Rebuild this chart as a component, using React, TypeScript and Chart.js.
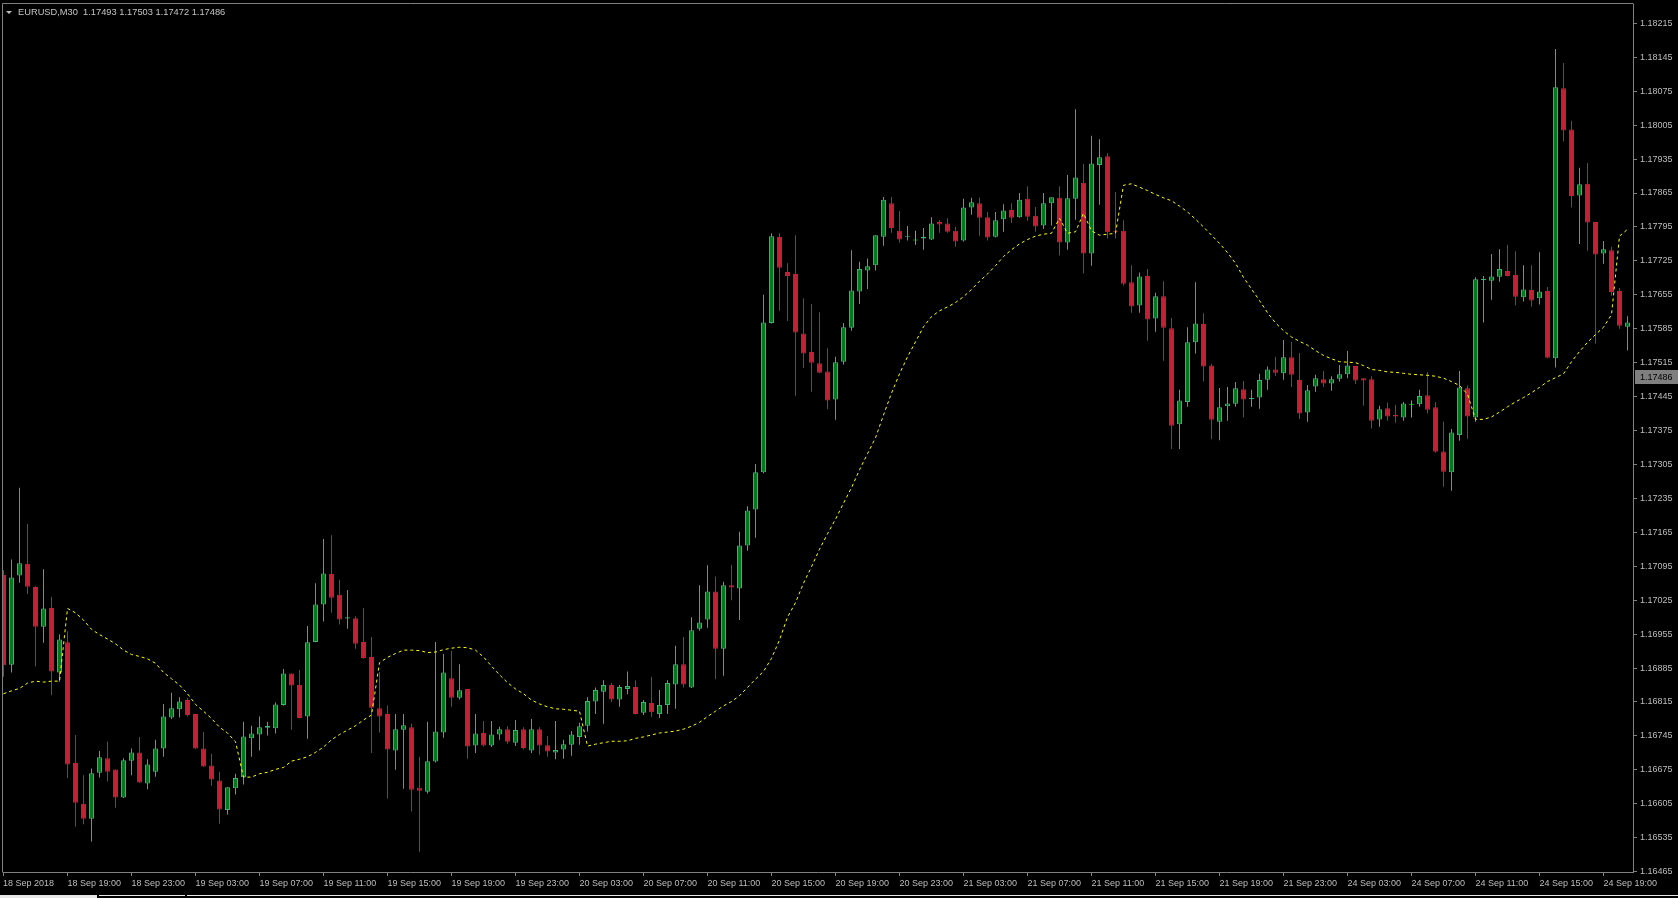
import React, { useEffect, useRef } from 'react';
import { Chart, registerables } from 'chart.js';

Chart.register(...registerables);

// ---- data (EURUSD M30, candle index 0 = 18 Sep 15:00) ----
const opens = [
  1.17077, 1.16892, 1.17076, 1.17100, 1.17052, 1.16970, 1.17009, 1.16876, 1.16938, 1.16689,
  1.16605, 1.16574, 1.16669, 1.16699, 1.16676, 1.16618, 1.16694, 1.16711, 1.16647, 1.16671,
  1.16719, 1.16783, 1.16800, 1.16819, 1.16790, 1.16719, 1.16684, 1.16653, 1.16592, 1.16637,
  1.16660, 1.16740, 1.16748, 1.16762, 1.16761, 1.16809, 1.16874, 1.16850, 1.16785, 1.16939,
  1.17016, 1.17079, 1.17036, 1.16987, 1.16988, 1.16939, 1.16908, 1.16802, 1.16790, 1.16715,
  1.16758, 1.16763, 1.16638, 1.16630, 1.16692, 1.16752, 1.16864, 1.16824, 1.16842, 1.16725,
  1.16751, 1.16725, 1.16748, 1.16759, 1.16731, 1.16759, 1.16715, 1.16759, 1.16726, 1.16711,
  1.16717, 1.16727, 1.16743, 1.16766, 1.16816, 1.16836, 1.16850, 1.16820, 1.16842, 1.16846,
  1.16793, 1.16813, 1.16790, 1.16809, 1.16851, 1.16893, 1.16845, 1.16966, 1.16985, 1.17043,
  1.16925, 1.17056, 1.17049, 1.17138, 1.17212, 1.17289, 1.17597, 1.17774, 1.17702, 1.17698,
  1.17575, 1.17537, 1.17514, 1.17497, 1.17439, 1.17517, 1.17587, 1.17662, 1.17705, 1.17716,
  1.17775, 1.17844, 1.17787, 1.17775, 1.17768, 1.17771, 1.17769, 1.17805, 1.17802, 1.17787,
  1.17767, 1.17835, 1.17844, 1.17815, 1.17775, 1.17811, 1.17830, 1.17815, 1.17853, 1.17818,
  1.17798, 1.17844, 1.17855, 1.17763, 1.17853, 1.17886, 1.17740, 1.17923, 1.17941, 1.17786,
  1.17787, 1.17681, 1.17633, 1.17694, 1.17606, 1.17652, 1.17586, 1.17388, 1.17434, 1.17557,
  1.17595, 1.17509, 1.17393, 1.17425, 1.17430, 1.17460, 1.17440, 1.17443, 1.17480, 1.17501,
  1.17493, 1.17526, 1.17479, 1.17412, 1.17466, 1.17481, 1.17472, 1.17482, 1.17491, 1.17508,
  1.17483, 1.17481, 1.17398, 1.17421, 1.17407, 1.17402, 1.17429, 1.17429, 1.17448, 1.17423,
  1.17332, 1.17289, 1.17366, 1.17462, 1.17402, 1.17685, 1.17684, 1.17692, 1.17704, 1.17696,
  1.17650, 1.17665, 1.17648, 1.17663, 1.17524, 1.18081, 1.17996, 1.17860, 1.17884, 1.17805,
  1.17740, 1.17747, 1.17663, 1.17589,
];
const highs = [
  1.17087, 1.17109, 1.17257, 1.17182, 1.17054, 1.17089, 1.17032, 1.16955, 1.16961, 1.16747,
  1.16664, 1.16678, 1.16714, 1.16733, 1.16676, 1.16699, 1.16719, 1.16743, 1.16697, 1.16737,
  1.16811, 1.16834, 1.16825, 1.16823, 1.16790, 1.16753, 1.16708, 1.16671, 1.16639, 1.16667,
  1.16774, 1.16766, 1.16785, 1.16774, 1.16814, 1.16883, 1.16874, 1.16881, 1.16972, 1.17060,
  1.17151, 1.17159, 1.17067, 1.17046, 1.16992, 1.17009, 1.16949, 1.16877, 1.16808, 1.16790,
  1.16790, 1.16770, 1.16702, 1.16774, 1.16939, 1.16914, 1.16920, 1.16893, 1.16842, 1.16790,
  1.16776, 1.16776, 1.16764, 1.16765, 1.16778, 1.16763, 1.16780, 1.16763, 1.16745, 1.16776,
  1.16737, 1.16755, 1.16772, 1.16825, 1.16845, 1.16860, 1.16854, 1.16850, 1.16878, 1.16860,
  1.16819, 1.16867, 1.16840, 1.16860, 1.16931, 1.16949, 1.16990, 1.17056, 1.17097, 1.17074,
  1.17063, 1.17098, 1.17166, 1.17219, 1.17306, 1.17655, 1.17782, 1.17782, 1.17720, 1.17778,
  1.17648, 1.17636, 1.17619, 1.17545, 1.17527, 1.17597, 1.17747, 1.17723, 1.17730, 1.17778,
  1.17857, 1.17857, 1.17828, 1.17797, 1.17787, 1.17793, 1.17815, 1.17809, 1.17813, 1.17795,
  1.17853, 1.17855, 1.17855, 1.17826, 1.17826, 1.17842, 1.17844, 1.17865, 1.17879, 1.17836,
  1.17865, 1.17856, 1.17879, 1.17902, 1.18038, 1.17925, 1.17983, 1.17976, 1.17947, 1.17867,
  1.17809, 1.17716, 1.17701, 1.17708, 1.17659, 1.17683, 1.17607, 1.17459, 1.17588, 1.17681,
  1.17617, 1.17513, 1.17463, 1.17465, 1.17475, 1.17477, 1.17459, 1.17492, 1.17507, 1.17527,
  1.17562, 1.17558, 1.17535, 1.17469, 1.17490, 1.17498, 1.17487, 1.17510, 1.17539, 1.17508,
  1.17483, 1.17487, 1.17426, 1.17433, 1.17428, 1.17434, 1.17437, 1.17459, 1.17496, 1.17434,
  1.17393, 1.17378, 1.17498, 1.17468, 1.17691, 1.17694, 1.17739, 1.17749, 1.17758, 1.17745,
  1.17716, 1.17716, 1.17743, 1.17671, 1.18162, 1.18133, 1.18014, 1.17917, 1.17927, 1.17805,
  1.17766, 1.17754, 1.17669, 1.17611,
];
const lows = [
  1.16867, 1.16876, 1.17061, 1.17038, 1.16889, 1.16937, 1.16829, 1.16857, 1.16658, 1.16558,
  1.16563, 1.16527, 1.16659, 1.16651, 1.16597, 1.16617, 1.16664, 1.16648, 1.16635, 1.16661,
  1.16702, 1.16780, 1.16783, 1.16785, 1.16718, 1.16681, 1.16642, 1.16564, 1.16583, 1.16624,
  1.16645, 1.16702, 1.16715, 1.16746, 1.16750, 1.16807, 1.16758, 1.16781, 1.16739, 1.16938,
  1.16981, 1.16999, 1.16975, 1.16966, 1.16925, 1.16904, 1.16710, 1.16752, 1.16616, 1.16675,
  1.16636, 1.16589, 1.16506, 1.16626, 1.16690, 1.16741, 1.16805, 1.16820, 1.16698, 1.16710,
  1.16723, 1.16722, 1.16737, 1.16729, 1.16724, 1.16717, 1.16710, 1.16706, 1.16702, 1.16697,
  1.16698, 1.16704, 1.16727, 1.16754, 1.16790, 1.16770, 1.16815, 1.16805, 1.16831, 1.16789,
  1.16788, 1.16784, 1.16782, 1.16790, 1.16801, 1.16845, 1.16844, 1.16962, 1.16968, 1.16862,
  1.16869, 1.17025, 1.16984, 1.17127, 1.17154, 1.17287, 1.17596, 1.17622, 1.17601, 1.17447,
  1.17504, 1.17455, 1.17493, 1.17419, 1.17397, 1.17511, 1.17581, 1.17636, 1.17667, 1.17705,
  1.17756, 1.17783, 1.17763, 1.17767, 1.17758, 1.17748, 1.17768, 1.17783, 1.17783, 1.17754,
  1.17765, 1.17820, 1.17777, 1.17767, 1.17773, 1.17785, 1.17803, 1.17814, 1.17808, 1.17785,
  1.17791, 1.17798, 1.17736, 1.17748, 1.17810, 1.17699, 1.17715, 1.17841, 1.17771, 1.17771,
  1.17674, 1.17618, 1.17618, 1.17560, 1.17579, 1.17519, 1.17337, 1.17337, 1.17424, 1.17534,
  1.17476, 1.17357, 1.17355, 1.17395, 1.17424, 1.17402, 1.17424, 1.17420, 1.17459, 1.17488,
  1.17480, 1.17465, 1.17399, 1.17393, 1.17455, 1.17465, 1.17457, 1.17476, 1.17483, 1.17471,
  1.17426, 1.17379, 1.17383, 1.17395, 1.17391, 1.17395, 1.17402, 1.17424, 1.17410, 1.17329,
  1.17259, 1.17251, 1.17354, 1.17358, 1.17393, 1.17598, 1.17645, 1.17682, 1.17693, 1.17633,
  1.17641, 1.17631, 1.17635, 1.17524, 1.17505, 1.17971, 1.17835, 1.17760, 1.17746, 1.17554,
  1.17719, 1.17653, 1.17585, 1.17540,
];
const closes = [
  1.16891, 1.17072, 1.17101, 1.17053, 1.16970, 1.17008, 1.16878, 1.16944, 1.16686, 1.16607,
  1.16574, 1.16668, 1.16701, 1.16671, 1.16618, 1.16695, 1.16711, 1.16649, 1.16686, 1.16719,
  1.16785, 1.16802, 1.16816, 1.16788, 1.16719, 1.16682, 1.16655, 1.16593, 1.16639, 1.16658,
  1.16744, 1.16750, 1.16763, 1.16766, 1.16810, 1.16874, 1.16849, 1.16782, 1.16938, 1.17016,
  1.17080, 1.17030, 1.16985, 1.16990, 1.16935, 1.16906, 1.16803, 1.16785, 1.16717, 1.16759,
  1.16767, 1.16634, 1.16632, 1.16693, 1.16754, 1.16876, 1.16824, 1.16839, 1.16723, 1.16750,
  1.16725, 1.16748, 1.16759, 1.16733, 1.16757, 1.16720, 1.16759, 1.16725, 1.16713, 1.16716,
  1.16728, 1.16748, 1.16765, 1.16817, 1.16840, 1.16850, 1.16820, 1.16846, 1.16848, 1.16790,
  1.16815, 1.16794, 1.16809, 1.16854, 1.16893, 1.16851, 1.16963, 1.16979, 1.17043, 1.16925,
  1.17056, 1.17051, 1.17138, 1.17210, 1.17289, 1.17598, 1.17776, 1.17711, 1.17694, 1.17577,
  1.17534, 1.17515, 1.17494, 1.17437, 1.17516, 1.17588, 1.17664, 1.17708, 1.17714, 1.17778,
  1.17851, 1.17793, 1.17769, 1.17777, 1.17768, 1.17775, 1.17802, 1.17800, 1.17785, 1.17765,
  1.17835, 1.17846, 1.17814, 1.17773, 1.17809, 1.17829, 1.17814, 1.17851, 1.17816, 1.17796,
  1.17844, 1.17856, 1.17763, 1.17854, 1.17897, 1.17740, 1.17926, 1.17939, 1.17784, 1.17784,
  1.17678, 1.17631, 1.17693, 1.17604, 1.17652, 1.17587, 1.17385, 1.17437, 1.17557, 1.17596,
  1.17507, 1.17397, 1.17423, 1.17431, 1.17462, 1.17439, 1.17442, 1.17479, 1.17501, 1.17494,
  1.17526, 1.17490, 1.17410, 1.17458, 1.17483, 1.17472, 1.17481, 1.17491, 1.17509, 1.17478,
  1.17478, 1.17395, 1.17419, 1.17404, 1.17404, 1.17431, 1.17429, 1.17446, 1.17418, 1.17331,
  1.17290, 1.17371, 1.17464, 1.17404, 1.17687, 1.17688, 1.17693, 1.17708, 1.17694, 1.17651,
  1.17666, 1.17643, 1.17662, 1.17525, 1.18083, 1.17994, 1.17859, 1.17883, 1.17804, 1.17738,
  1.17749, 1.17661, 1.17591, 1.17598,
];
// shifted moving average (yellow dotted)
const maValues = [
  1.16832, 1.16838, 1.16843, 1.16854, 1.16858, 1.16856, 1.16858, 1.16858, 1.17008, 1.16999,
  1.16984, 1.16965, 1.16954, 1.16945, 1.16935, 1.16922, 1.16913, 1.16909, 1.16904, 1.16895,
  1.16876, 1.16863, 1.16850, 1.16832, 1.16810, 1.16796, 1.16781, 1.16763, 1.16751, 1.16733,
  1.16660, 1.16660, 1.16667, 1.16670, 1.16676, 1.16680, 1.16693, 1.16697, 1.16702, 1.16711,
  1.16722, 1.16737, 1.16748, 1.16757, 1.16766, 1.16778, 1.16788, 1.16896, 1.16907, 1.16915,
  1.16922, 1.16922, 1.16921, 1.16917, 1.16918, 1.16923, 1.16926, 1.16928, 1.16927, 1.16922,
  1.16908, 1.16889, 1.16871, 1.16855, 1.16842, 1.16832, 1.16819, 1.16811, 1.16805, 1.16801,
  1.16800, 1.16798, 1.16796, 1.16724, 1.16728, 1.16731, 1.16734, 1.16734, 1.16735, 1.16740,
  1.16743, 1.16747, 1.16751, 1.16753, 1.16755, 1.16759, 1.16765, 1.16773, 1.16785, 1.16796,
  1.16807, 1.16816, 1.16828, 1.16845, 1.16862, 1.16878, 1.16905, 1.16943, 1.16990, 1.17020,
  1.17060, 1.17094, 1.17130, 1.17162, 1.17192, 1.17225, 1.17257, 1.17294, 1.17327, 1.17360,
  1.17407, 1.17452, 1.17492, 1.17527, 1.17558, 1.17589, 1.17610, 1.17622, 1.17630, 1.17639,
  1.17651, 1.17666, 1.17683, 1.17698, 1.17715, 1.17734, 1.17748, 1.17760, 1.17769, 1.17776,
  1.17780, 1.17782, 1.17813, 1.17782, 1.17785, 1.17823, 1.17787, 1.17778, 1.17780, 1.17782,
  1.17881, 1.17884, 1.17877, 1.17870, 1.17862, 1.17855, 1.17849, 1.17838, 1.17826, 1.17811,
  1.17795, 1.17778, 1.17761, 1.17742, 1.17720, 1.17691, 1.17667, 1.17643, 1.17618, 1.17597,
  1.17581, 1.17568, 1.17559, 1.17551, 1.17540, 1.17530, 1.17523, 1.17517, 1.17516, 1.17515,
  1.17509, 1.17501, 1.17499, 1.17496, 1.17495, 1.17493, 1.17491, 1.17490, 1.17489, 1.17487,
  1.17483, 1.17476, 1.17468, 1.17450, 1.17398, 1.17398, 1.17403, 1.17413, 1.17424, 1.17434,
  1.17443, 1.17453, 1.17464, 1.17476, 1.17484, 1.17492, 1.17517, 1.17538, 1.17557, 1.17573,
  1.17588, 1.17614, 1.17776, 1.17790,
];
const timeLabels = [
  '18 Sep 2018', '18 Sep 19:00', '18 Sep 23:00', '19 Sep 03:00', '19 Sep 07:00', '19 Sep 11:00',
  '19 Sep 15:00', '19 Sep 19:00', '19 Sep 23:00', '20 Sep 03:00', '20 Sep 07:00', '20 Sep 11:00',
  '20 Sep 15:00', '20 Sep 19:00', '20 Sep 23:00', '21 Sep 03:00', '21 Sep 07:00', '21 Sep 11:00',
  '21 Sep 15:00', '21 Sep 19:00', '21 Sep 23:00', '24 Sep 03:00', '24 Sep 07:00', '24 Sep 11:00',
  '24 Sep 15:00', '24 Sep 19:00',
];
const timeTickIndex = [
  0, 8, 16, 24, 32, 40, 48, 56, 64, 72, 80, 88, 96, 104, 112, 120, 128, 136, 144, 152, 160,
  168, 176, 184, 192, 200,
];
const priceTicks = [
  1.16465, 1.16535, 1.16605, 1.16675, 1.16745, 1.16815, 1.16885, 1.16955, 1.17025, 1.17095,
  1.17165, 1.17235, 1.17305, 1.17375, 1.17445, 1.17515, 1.17585, 1.17655, 1.17725, 1.17795,
  1.17865, 1.17935, 1.18005, 1.18075, 1.18145, 1.18215,
];
const bidPrice = 1.17486;
const headerText = 'EURUSD,M30  1.17493 1.17503 1.17472 1.17486';

// ---- styles ----
const FONT = "'Liberation Sans', Arial, sans-serif";
const AXIS_TEXT = '#bdbdbd';
const FRAME = '#808080';
const BULL_FILL = '#007a1c';
const BULL_LINE = '#3cb371';
const BEAR = '#c41f33';
const DOJI = '#00ff00';
const MA_COLOR = '#ffff00';
const W = 1678;
const H = 898;

export default function App() {
  const canvasRef = useRef<HTMLCanvasElement | null>(null);

  useEffect(() => {
    document.body.style.margin = '0';
    document.body.style.background = '#000';
    const canvas = canvasRef.current;
    if (!canvas) return;

    const idx = opens.map((_, i) => i);
    const kind = idx.map((i) => (closes[i] > opens[i] ? 1 : closes[i] < opens[i] ? -1 : 0));
    const lineCol = kind.map((k) => (k > 0 ? BULL_LINE : k < 0 ? BEAR : DOJI));
    const fillCol = kind.map((k) => (k > 0 ? BULL_FILL : k < 0 ? BEAR : DOJI));
    const half = 0.00001;
    const bodyData = idx.map((i) => {
      const o = opens[i];
      const c = closes[i];
      if (Math.abs(o - c) < 2 * half) {
        const m = (o + c) / 2;
        return { x: i, y: [m - half, m + half] };
      }
      return { x: i, y: [o, c] };
    });
    const wickData = idx.map((i) => ({ x: i, y: [lows[i], highs[i]] }));
    const maData = maValues.map((v, i) => ({ x: i, y: v }));

    const overlay = {
      id: 'mt4Overlay',
      afterDraw(chart: any) {
        const { ctx, chartArea: a, scales } = chart;
        ctx.save();
        ctx.strokeStyle = FRAME;
        ctx.lineWidth = 1;
        ctx.beginPath();
        ctx.moveTo(a.left - 0.5, a.top - 0.5);
        ctx.lineTo(a.right + 0.5, a.top - 0.5);
        ctx.moveTo(a.left - 0.5, a.top - 0.5);
        ctx.lineTo(a.left - 0.5, a.bottom + 0.5);
        ctx.stroke();
        const y = Math.round(scales.y.getPixelForValue(bidPrice));
        ctx.fillStyle = '#7f7f7f';
        ctx.fillRect(a.right + 2, y - 7, W - a.right - 2, 14);
        ctx.fillStyle = '#000000';
        ctx.font = `9px ${FONT}`;
        ctx.textBaseline = 'middle';
        ctx.textAlign = 'left';
        ctx.fillText(bidPrice.toFixed(5), a.right + 7, y + 0.5);
        ctx.restore();
      },
    };

    const chart = new Chart(canvas, {
      type: 'bar',
      data: {
        datasets: [
          {
            type: 'line',
            data: maData as any,
            borderColor: MA_COLOR,
            borderWidth: 1,
            borderDash: [3, 3],
            pointRadius: 0,
            tension: 0,
            fill: false,
            order: 0,
          } as any,
          {
            type: 'bar',
            data: bodyData as any,
            backgroundColor: fillCol,
            borderColor: lineCol,
            borderWidth: 1,
            borderSkipped: false,
            barThickness: 5,
            grouped: false,
            inflateAmount: 0,
            order: 1,
          } as any,
          {
            type: 'bar',
            data: wickData as any,
            backgroundColor: lineCol,
            borderWidth: 0,
            barThickness: 1,
            grouped: false,
            inflateAmount: 0,
            order: 2,
          } as any,
        ],
      },
      options: {
        animation: false,
        responsive: false,
        maintainAspectRatio: false,
        devicePixelRatio: 1,
        events: [],
        layout: { padding: { top: 4, left: 3, right: 0, bottom: 0 }, autoPadding: false } as any,
        plugins: { legend: { display: false }, tooltip: { enabled: false } },
        scales: {
          x: {
            type: 'linear',
            min: -0.0625,
            max: 203.6875,
            offset: false,
            bounds: 'data',
            afterBuildTicks: (s: any) => {
              s.ticks = timeTickIndex.map((v, j) => ({ value: j === 0 ? s.min : v }));
            },
            afterFit: (s: any) => {
              s.height = 26;
              s.paddingLeft = 0;
              s.paddingRight = 0;
              s.paddingTop = 0;
              s.paddingBottom = 0;
            },
            ticks: {
              autoSkip: false,
              maxRotation: 0,
              minRotation: 0,
              align: 'start',
              color: AXIS_TEXT,
              font: { family: FONT, size: 9 },
              padding: 2,
              callback: (_v: any, j: number) => timeLabels[j],
            },
            grid: { drawOnChartArea: false, drawTicks: true, tickLength: 4, color: FRAME, offset: false },
            border: { display: true, color: FRAME },
          } as any,
          y: {
            type: 'linear',
            position: 'right',
            min: 1.164643,
            max: 1.182549,
            bounds: 'data',
            afterBuildTicks: (s: any) => {
              s.ticks = priceTicks.map((v) => ({ value: v }));
            },
            afterFit: (s: any) => {
              s.width = 45;
              s.paddingTop = 0;
              s.paddingBottom = 0;
              s.paddingLeft = 0;
              s.paddingRight = 0;
            },
            ticks: {
              autoSkip: false,
              color: AXIS_TEXT,
              font: { family: FONT, size: 9 },
              padding: 3,
              callback: (v: any) => Number(v).toFixed(5),
            },
            grid: { drawOnChartArea: false, drawTicks: true, tickLength: 4, color: FRAME },
            border: { display: true, color: FRAME },
          } as any,
        },
      },
      plugins: [overlay],
    });

    return () => {
      chart.destroy();
    };
  }, []);

  return (
    <div
      style={{
        position: 'fixed',
        left: 0,
        top: 0,
        width: W,
        height: H,
        background: '#000',
        overflow: 'hidden',
      }}
    >
      <canvas
        ref={canvasRef}
        width={W}
        height={H}
        style={{ position: 'absolute', left: 0, top: 0, width: W, height: H }}
      />
      <div
        style={{
          position: 'absolute',
          left: 6,
          top: 11,
          width: 0,
          height: 0,
          borderLeft: '3px solid transparent',
          borderRight: '3px solid transparent',
          borderTop: '3px solid #bdbdbd',
        }}
      />
      <div
        style={{
          position: 'absolute',
          left: 18,
          top: 7,
          font: `9.3px ${FONT}`,
          lineHeight: '11px',
          color: '#c4c4c4',
          whiteSpace: 'pre',
        }}
      >
        {headerText}
      </div>
      <div style={{ position: 'absolute', left: 0, top: 895, width: 97, height: 3, background: '#e6e6e6' }} />
      <div style={{ position: 'absolute', left: 99, top: 895, width: 86, height: 1, background: '#e6e6e6' }} />
      <div style={{ position: 'absolute', left: 187, top: 895, width: W - 187, height: 1, background: '#e6e6e6' }} />
    </div>
  );
}
